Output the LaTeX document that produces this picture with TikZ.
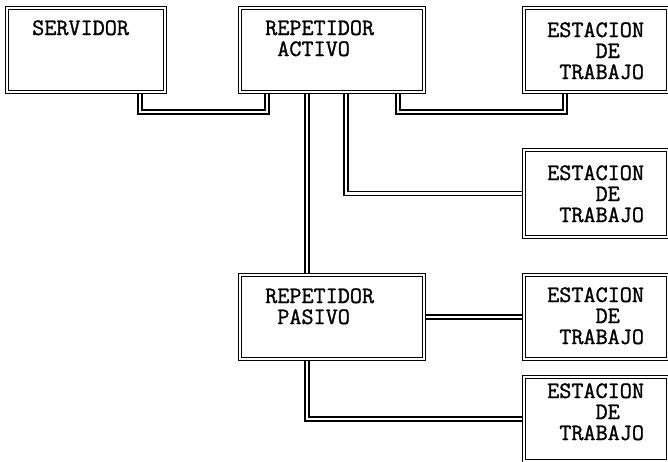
\documentclass[tikz,border=0pt]{standalone}
\usepackage{fontspec}
\setmonofont{Latin Modern Mono}[FakeBold=1.2]
\usetikzlibrary{backgrounds}
\begin{document}
\begin{tikzpicture}[x=1pt,y=-1pt,
  box/.style={draw, fill=white, line width=1.5pt, double=white, double distance=1.6pt,
    rectangle, inner sep=0pt, outer sep=0pt, anchor=north west},
  cable/.style={draw, line width=1.5pt, double=white, double distance=2.8pt},
  lbl/.style={font=\ttfamily\fontsize{23.5}{21}\selectfont, align=left, anchor=base west, inner sep=0pt}]
\useasboundingbox (0,0) rectangle (668,461);
% boxes
\node[box, minimum width=158pt, minimum height=84pt] (srv) at (7,8) {};
\node[box, minimum width=184pt, minimum height=84pt] (ra) at (240,8) {};
\node[box, minimum width=144pt, minimum height=84pt] (e1) at (524,8) {};
\node[box, minimum width=144pt, minimum height=87pt] (e2) at (524,150) {};
\node[box, minimum width=184pt, minimum height=84pt] (rp) at (240,275) {};
\node[box, minimum width=144pt, minimum height=84pt] (e3) at (524,275) {};
\node[box, minimum width=144pt, minimum height=84pt] (e4) at (524,377) {};
% cable bends
\coordinate (k1) at (140,112);
\coordinate (k2) at (267,112);
\coordinate (k3) at (398,112);
\coordinate (k4) at (565,112);
\coordinate (k5) at (307,0);
\coordinate (k6) at (346,0);
\begin{scope}[on background layer]
\draw[cable] (srv.south -| k1) |- (k2) -- (ra.south -| k2);
\draw[cable] (ra.south -| k3) |- (k4) -- (e1.south -| k4);
\draw[cable] (ra.south -| k5) -- (rp.north -| k5);
\draw[cable] (ra.south -| k6) |- (e2.west);
\draw[cable] (rp.east) -- (e3.west);
\draw[cable] (rp.south -| k5) |- (e4.west);
\end{scope}
% texts (anchor = baseline of the last line)
\node[lbl] (tsrv) at (32,35) {SERVIDOR};
\node[lbl] (tra) at (265,56) {REPETIDOR\\\phantom{X}ACTIVO};
\node[lbl] (te1) at (547,79) {ESTACION\\\phantom{XXXX}DE\\\phantom{X}TRABAJO};
\node[lbl] (te2) at (547,222) {ESTACION\\\phantom{XXXX}DE\\\phantom{X}TRABAJO};
\node[lbl] (trp) at (265,324) {REPETIDOR\\\phantom{X}PASIVO};
\node[lbl] (te3) at (547,344) {ESTACION\\\phantom{XXXX}DE\\\phantom{X}TRABAJO};
\node[lbl] (te4) at (547,440) {ESTACION\\\phantom{XXXX}DE\\\phantom{X}TRABAJO};
\end{tikzpicture}
\end{document}
